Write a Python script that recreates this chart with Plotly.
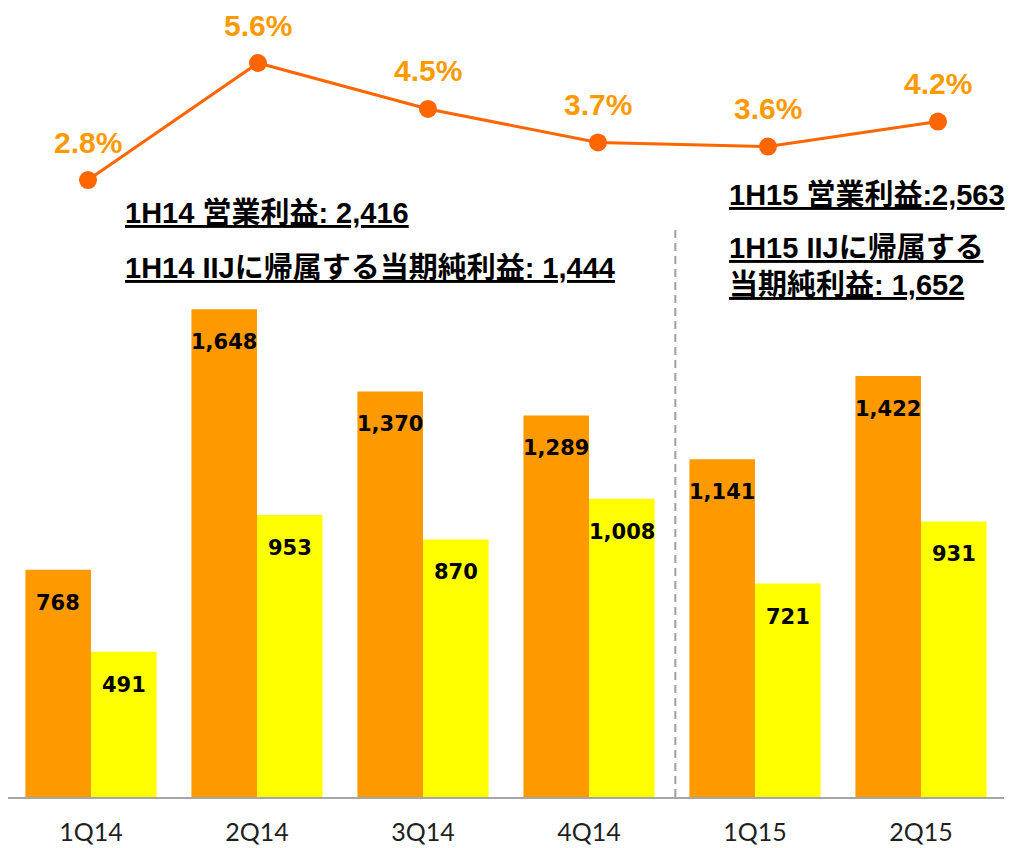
import plotly.graph_objects as go

quarters = ["1Q14", "2Q14", "3Q14", "4Q14", "1Q15", "2Q15"]
operating_income = [768, 1648, 1370, 1289, 1141, 1422]
net_income = [491, 953, 870, 1008, 721, 931]
margin_pct = [2.8, 5.6, 4.5, 3.7, 3.6, 4.2]

ORANGE = "#FF9900"
YELLOW = "#FFFF00"
LINE = "#FF6600"

# plot area in page pixels
X0, PW = 8, 996
Y_TOP, Y_BASE = 0, 797
PH = Y_BASE - Y_TOP
BAR_SCALE = 0.296          # px per unit
PCT_SCALE = 41.8           # px per percentage point
PCT_REF_Y = 63             # page y of the 5.6% point

fig = go.Figure()
fig.add_trace(go.Bar(x=quarters, y=operating_income, marker=dict(color=ORANGE, line=dict(width=0)),
                     name="営業利益", hoverinfo="x+y"))
fig.add_trace(go.Bar(x=quarters, y=net_income, marker=dict(color=YELLOW, line=dict(width=0)),
                     name="当期純利益", hoverinfo="x+y"))
fig.add_trace(go.Scatter(x=quarters, y=margin_pct, xaxis="x2", yaxis="y2", mode="lines+markers",
                         line=dict(color=LINE, width=3), marker=dict(color=LINE, size=18),
                         name="営業利益率"))

annotations = []
num_font = dict(family="DejaVu Sans", size=21, color="#000000")
for q, v in zip(quarters, operating_income):
    annotations.append(dict(x=q, y=v, xref="x", yref="y", text=f"<b>{v:,}</b>", showarrow=False,
                            xshift=-33, yshift=-33, font=num_font))
for q, v in zip(quarters, net_income):
    annotations.append(dict(x=q, y=v, xref="x", yref="y", text=f"<b>{v:,}</b>", showarrow=False,
                            xshift=33, yshift=-33, font=num_font))
for q, v in zip(quarters, margin_pct):
    annotations.append(dict(x=q, y=v, xref="x2", yref="y2", text=f"<b>{v:.1f}%</b>", showarrow=False,
                            yshift=38, font=dict(family="Liberation Sans", size=30, color=ORANGE)))

def px(xp):
    return (xp - X0) / PW
def py(yp):
    return (Y_BASE - yp) / PH

txt_font = dict(family="Liberation Sans, Noto Sans CJK JP", size=29, color="#000000")
summary = [
    (123, 213, "<b><u>1H14 営業利益: 2,416</u></b>"),
    (123, 268, "<b><u>1H14 IIJに帰属する当期純利益: 1,444</u></b>"),
    (727, 195, "<b><u>1H15 営業利益:2,563</u></b>"),
    (727, 248, "<b><u>1H15 IIJに帰属する</u></b>"),
    (727, 285, "<b><u>当期純利益: 1,652</u></b>"),
]
for xp, yp, t in summary:
    annotations.append(dict(x=px(xp), y=py(yp), xref="paper", yref="paper", text=t, showarrow=False,
                            xanchor="left", yanchor="middle", font=txt_font))

pct_top = 5.6 + (PCT_REF_Y - Y_TOP) / PCT_SCALE
pct_bot = 5.6 - (Y_BASE - PCT_REF_Y) / PCT_SCALE

fig.update_layout(
    width=1009, height=848,
    margin=dict(l=X0, r=1009 - X0 - PW, t=Y_TOP, b=848 - Y_BASE, pad=0, autoexpand=False),
    paper_bgcolor="white", plot_bgcolor="white",
    barmode="group", bargap=0.21, bargroupgap=0,
    showlegend=False,
    annotations=annotations,
    xaxis=dict(type="category", range=[-0.5, 5.5], showline=True, linecolor="#A6A6A6", linewidth=2,
               showgrid=False, zeroline=False, ticks="outside", ticklen=12, tickcolor="rgba(0,0,0,0)",
               tickfont=dict(family="Lato", size=25, color="#1F1F1F"), automargin=False),
    xaxis2=dict(type="category", overlaying="x", range=[(X0 - 88) / 170, (X0 + PW - 88) / 170],
                showticklabels=False, showgrid=False, zeroline=False, showline=False, automargin=False),
    yaxis=dict(range=[0, PH / BAR_SCALE], showticklabels=False, showgrid=False, zeroline=False,
               showline=False, automargin=False),
    yaxis2=dict(overlaying="y", range=[pct_bot, pct_top], showticklabels=False, showgrid=False,
                zeroline=False, showline=False, automargin=False),
    shapes=[dict(type="line", xref="x", yref="paper", x0=3.52, x1=3.52, y0=0, y1=py(227),
                 line=dict(color="#A0A0A0", width=2, dash="8px,5px"))],
)

fig.write_html(
    "out.html",
    config={"displayModeBar": False},
    post_script="document.body.style.margin='0';document.documentElement.style.overflow='hidden';",
)
